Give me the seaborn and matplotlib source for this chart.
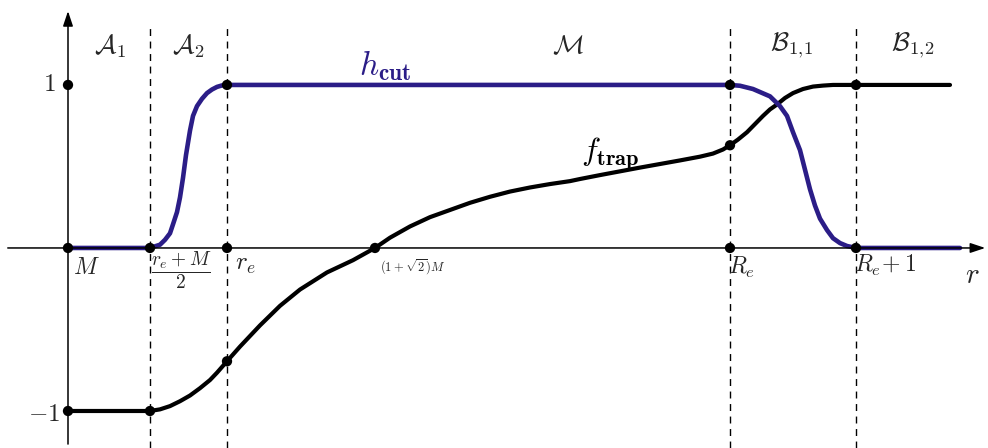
import numpy as np
import pandas as pd
import seaborn as sns
import matplotlib
matplotlib.use('Agg')
import matplotlib.pyplot as plt

# key radii on the r axis: M, (r_e+M)/2, r_e, (1+sqrt2)M, R_e, R_e+1
r_keys = [0.0, 0.82, 1.59, 3.07, 6.62, 7.88]
r_labels = [r"$M$", r"$\dfrac{r_e+M}{2}$", r"$r_e$", r"$(1+\sqrt{2})M$", r"$R_e$", r"$R_e\!+1$"]

# h_cut
h_r = [0.0, 0.82, 0.92, 0.97, 1.02, 1.05, 1.09, 1.12, 1.15, 1.18, 1.22, 1.25, 1.29, 1.34, 1.39, 1.44,
       1.49, 1.54, 1.59,
       6.62, 6.72, 6.85, 7.02, 7.12, 7.19, 7.25, 7.32, 7.37, 7.42, 7.47, 7.52, 7.59, 7.65, 7.72,
       7.79, 7.88, 8.92]
h_val = [0.0, 0.0, 0.02, 0.05, 0.09, 0.145, 0.22, 0.31, 0.43, 0.57, 0.72, 0.81, 0.87, 0.915, 0.95, 0.972,
         0.988, 0.997, 1.0,
         1.0, 0.995, 0.975, 0.93, 0.87, 0.81, 0.71, 0.60, 0.48, 0.36, 0.26, 0.18, 0.11, 0.06, 0.03,
         0.012, 0.0, 0.0]

# f_trap
f_r = [0.0, 0.82, 0.92, 1.02, 1.12, 1.22, 1.32, 1.42, 1.49, 1.59, 1.72, 1.92, 2.12, 2.32, 2.59, 2.85,
       3.07, 3.22, 3.42, 3.62, 3.82, 4.02, 4.22, 4.42, 4.62, 4.82, 5.02, 5.12, 5.32, 5.52, 5.72,
       5.92, 6.12, 6.32, 6.45, 6.55, 6.62,
       6.70, 6.79, 6.87, 6.95, 7.02, 7.09, 7.17, 7.25, 7.35, 7.45, 7.55, 7.65, 7.88, 8.82]
f_val = [-1.0, -1.0, -0.99, -0.97, -0.94, -0.905, -0.86, -0.81, -0.765, -0.695, -0.605, -0.475, -0.355, -0.255,
         -0.15, -0.075,
         0.0, 0.063, 0.132, 0.189, 0.233, 0.277, 0.314, 0.346, 0.371, 0.392, 0.41, 0.423, 0.447, 0.47,
         0.493, 0.515, 0.537, 0.56, 0.579, 0.604, 0.63,
         0.665, 0.71, 0.76, 0.81, 0.85, 0.88, 0.92, 0.95, 0.975, 0.99, 0.996, 1.0, 1.0, 1.0]

# marked points
dot_r = [0.0, 0.0, 0.0, 0.82, 0.82, 1.59, 1.59, 1.59, 3.07, 6.62, 6.62, 6.62, 7.88, 7.88]
dot_y = [0.0, 1.0, -1.0, 0.0, -1.0, 0.0, 1.0, -0.695, 0.0, 0.0, 1.0, 0.63, 0.0, 1.0]

regions = [r"$\mathcal{A}_1$", r"$\mathcal{A}_2$", r"$\mathcal{M}$", r"$\mathcal{B}_{1,\!1}$", r"$\mathcal{B}_{1,\!2}$"]
region_r = [0.42, 1.2, 5.0, 7.24, 8.45]

sns.set_style("white")
plt.rcParams['mathtext.fontset'] = 'cm'
plt.rcParams['font.family'] = ['DejaVu Serif']

blue = "#2b1d87"
fig = plt.figure(figsize=(9.88, 4.48), dpi=100)
ax = fig.add_axes([0, 0, 1, 1])

# axes with arrows
ax.annotate("", xy=(9.2, 0), xytext=(-0.63, 0),
            arrowprops=dict(arrowstyle="-|>,head_length=0.9,head_width=0.3", color="black", lw=1.1))
ax.annotate("", xy=(0, 1.47), xytext=(0, -1.22),
            arrowprops=dict(arrowstyle="-|>,head_length=0.9,head_width=0.3", color="black", lw=1.1))

# dashed separators
ax.vlines(r_keys[1:3] + r_keys[4:6], -1.227, 1.35, colors="black", lw=1.0, linestyles=(0, (5, 4)))

df_h = pd.DataFrame({"r": h_r, "y": h_val})
df_f = pd.DataFrame({"r": f_r, "y": f_val})
sns.lineplot(data=df_f, x="r", y="y", sort=False, color="black", lw=3,
             solid_joinstyle="round", solid_capstyle="round", ax=ax)
sns.lineplot(data=df_h, x="r", y="y", sort=False, color=blue, lw=3.3,
             solid_joinstyle="round", ax=ax)
sns.scatterplot(x=dot_r, y=dot_y, color="black", s=55, edgecolor="none", zorder=5, ax=ax)
ax.set_xlim(-0.68, 9.2)
ax.set_ylim(-1.227, 1.521)
ax.axis("off")

# tick labels
ax.text(-0.12, 1.0, r"$1$", fontsize=18, ha="right", va="center")
ax.text(-0.08, -1.02, r"$-1$", fontsize=18, ha="right", va="center")
ax.text(r_keys[0] + 0.05, -0.05, r_labels[0], fontsize=17, ha="left", va="top")
ax.text(r_keys[1] + 0.01, -0.01, r_labels[1], fontsize=14, ha="left", va="top")
ax.text(r_keys[2] + 0.08, -0.03, r_labels[2], fontsize=18, ha="left", va="top")
ax.text(r_keys[3] + 0.05, -0.06, r_labels[3], fontsize=9, ha="left", va="top")
ax.text(r_keys[4] - 0.02, -0.04, r_labels[4], fontsize=17, ha="left", va="top")
ax.text(r_keys[5] - 0.02, -0.03, r_labels[5], fontsize=17, ha="left", va="top")
ax.text(9.04, -0.08, r"$r$", fontsize=21, ha="center", va="top")

for name, rx in zip(regions, region_r):
    ax.text(rx, 1.24, name, fontsize=19, ha="center", va="center")

ax.text(3.17, 1.12, r"$h_{\mathbf{cut}}$", fontsize=24, color=blue, ha="center", va="center")
ax.text(5.42, 0.58, r"$f_{\mathbf{trap}}$", fontsize=23, color="black", ha="center", va="center")

plt.savefig("out.png", dpi=100)
